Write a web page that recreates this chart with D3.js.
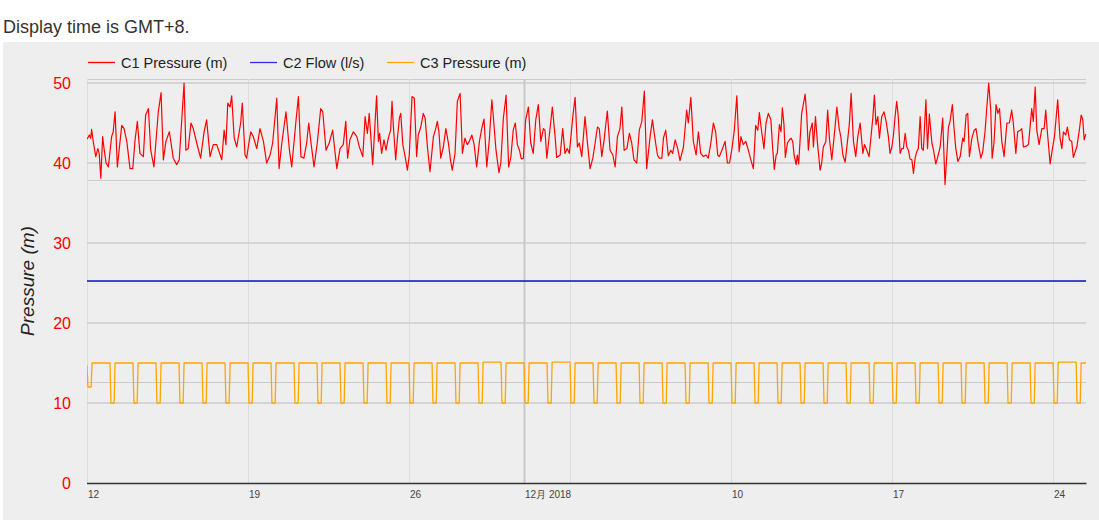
<!DOCTYPE html>
<html>
<head>
<meta charset="utf-8">
<script src="https://cdn.jsdelivr.net/npm/d3@7"></script>
<style>
  html, body { margin: 0; padding: 0; background: #fff; }
  svg { display: block; font-family: Arial, "Liberation Sans", sans-serif; }
</style>
</head>
<body>
<svg id="chart" width="1099" height="522"></svg>
<script>
// ---------------- DATA ----------------
const titleText = "Display time is GMT+8.";
const seriesNames = ["C1 Pressure (m)", "C2 Flow (l/s)", "C3 Pressure (m)"];
const seriesColors = ["#ff0000", "#1010c0", "#ffa500"];
const yAxisTitle = "Pressure (m)";
const yTicks = [0, 10, 20, 30, 40, 50];
const yMax = 50.5;
const secondaryGridTicks = [0, 1, 2, 3, 4];
const startDate = Date.UTC(2018, 10, 12);   // 12 Nov 2018
const spanDays = 43.43;
const xTickDays = [0, 7, 14, 19, 21, 28, 35, 42];
const xTickLabels = ["12", "19", "26", "12月 2018", "", "10", "17", "24"];
const xMajorTickDay = 19;

// C1 Pressure: day offset from 12 Nov and value (m)
const c1Days = [0.01,0.10,0.16,0.20,0.27,0.38,0.47,0.53,0.60,0.68,0.75,0.83,0.93,1.07,1.14,1.22,1.32,1.51,1.61,1.73,1.87,1.99,2.09,2.19,2.30,2.45,2.55,2.67,2.77,2.91,3.10,3.22,3.32,3.43,3.58,3.75,3.90,4.01,4.22,4.30,4.40,4.52,4.62,4.77,4.94,5.09,5.20,5.35,5.49,5.64,5.86,5.96,6.04,6.12,6.22,6.29,6.40,6.51,6.68,6.75,6.87,6.94,7.01,7.12,7.23,7.38,7.52,7.67,7.81,7.96,8.07,8.25,8.35,8.47,8.65,8.80,8.90,9.09,9.19,9.30,9.43,9.55,9.64,9.73,9.87,10.01,10.16,10.25,10.39,10.53,10.68,10.86,11.00,11.14,11.25,11.33,11.43,11.58,11.73,11.84,11.99,12.09,12.19,12.27,12.42,12.59,12.67,12.72,12.81,12.91,13.00,13.10,13.20,13.26,13.32,13.42,13.49,13.58,13.64,13.73,13.83,13.93,14.01,14.13,14.23,14.33,14.40,14.51,14.62,14.70,14.80,14.91,15.06,15.16,15.23,15.30,15.38,15.49,15.60,15.71,15.81,15.88,16.00,16.10,16.22,16.32,16.43,16.53,16.62,16.73,16.83,16.94,17.06,17.16,17.26,17.38,17.49,17.60,17.67,17.78,17.91,17.99,18.10,18.22,18.33,18.43,18.53,18.62,18.71,18.80,18.88,18.97,19.07,19.19,19.29,19.40,19.51,19.62,19.73,19.84,19.91,19.99,20.10,20.23,20.35,20.42,20.57,20.68,20.78,20.88,20.97,21.12,21.22,21.32,21.40,21.51,21.65,21.75,21.87,21.99,22.09,22.19,22.27,22.38,22.48,22.62,22.74,22.86,22.96,23.06,23.17,23.25,23.35,23.47,23.58,23.68,23.78,23.90,24.01,24.12,24.23,24.33,24.48,24.58,24.70,24.80,24.88,24.99,25.06,25.16,25.27,25.38,25.46,25.57,25.68,25.78,25.93,26.07,26.14,26.25,26.36,26.48,26.58,26.68,26.80,26.91,27.01,27.13,27.23,27.33,27.42,27.49,27.60,27.74,27.84,27.93,28.03,28.14,28.25,28.35,28.43,28.53,28.64,28.75,28.86,28.97,29.07,29.16,29.23,29.33,29.43,29.52,29.62,29.73,29.81,29.88,29.96,30.01,30.10,30.17,30.23,30.30,30.36,30.45,30.54,30.61,30.68,30.74,30.83,30.88,30.94,31.07,31.14,31.22,31.29,31.36,31.43,31.53,31.58,31.67,31.75,31.87,31.94,32.01,32.12,32.20,32.28,32.38,32.48,32.60,32.70,32.77,32.86,32.96,33.06,33.14,33.22,33.32,33.42,33.51,33.61,33.73,33.80,33.90,34.00,34.09,34.16,34.23,34.30,34.38,34.45,34.55,34.65,34.74,34.84,34.91,34.99,35.06,35.13,35.20,35.27,35.35,35.42,35.49,35.57,35.64,35.71,35.78,35.86,35.93,36.00,36.07,36.14,36.22,36.29,36.36,36.47,36.54,36.62,36.73,36.80,36.90,36.97,37.09,37.20,37.30,37.38,37.45,37.52,37.62,37.70,37.77,37.86,37.96,38.07,38.13,38.22,38.29,38.36,38.47,38.57,38.65,38.75,38.86,38.94,39.04,39.12,39.20,39.29,39.35,39.43,39.52,39.60,39.67,39.77,39.87,39.99,40.10,40.20,40.27,40.38,40.46,40.57,40.64,40.71,40.83,40.93,41.07,41.14,41.22,41.29,41.39,41.51,41.61,41.68,41.75,41.87,41.97,42.06,42.20,42.30,42.38,42.45,42.55,42.62,42.71,42.81,42.88,43.03,43.14,43.22,43.29,43.35,43.42];
const c1Values = [43.0,43.5,43.1,44.2,42.7,40.8,41.8,41.2,38.1,43.3,41.6,40.0,39.5,43.3,43.9,46.4,39.5,44.7,44.3,42.7,39.3,39.3,42.9,45.2,41.2,40.8,46.0,46.8,41.6,39.5,46.4,48.8,40.4,42.7,43.9,40.6,39.8,40.4,50.0,41.6,41.8,45.0,44.3,42.5,40.6,43.9,45.4,40.8,42.3,42.3,40.4,44.1,42.3,47.5,47.0,48.4,43.1,42.0,45.0,47.5,41.0,40.6,42.0,43.9,43.3,41.8,44.3,42.7,40.0,41.0,42.5,48.1,39.3,42.5,46.4,41.6,39.5,45.4,48.3,40.8,40.6,42.5,45.0,42.7,39.5,42.5,46.8,46.4,41.6,42.5,44.1,39.3,41.8,42.3,45.2,40.6,42.9,43.9,43.3,42.0,40.8,45.8,43.7,46.2,39.8,48.4,42.7,43.7,41.2,42.9,41.6,43.1,44.1,47.7,44.5,40.4,42.9,45.6,46.2,42.3,40.8,39.1,41.0,48.3,48.1,40.8,43.5,44.5,46.2,45.6,42.0,38.9,43.3,44.3,45.2,43.9,40.6,42.0,44.3,42.5,40.2,39.1,41.2,47.7,48.7,41.2,43.1,42.3,42.7,43.5,42.3,39.5,42.7,44.3,45.5,39.5,42.9,47.9,45.6,41.6,38.8,40.0,45.6,48.5,39.5,40.8,44.1,45.0,42.3,41.6,40.5,40.6,45.4,47.0,42.5,41.2,45.4,47.3,42.7,44.3,44.1,40.6,43.5,47.0,43.3,40.7,41.0,44.3,41.2,41.8,41.2,45.8,48.2,42.0,42.5,40.8,45.8,42.7,39.3,40.6,42.5,44.5,44.3,40.8,42.9,46.5,41.6,41.0,39.5,43.3,44.3,47.0,41.6,41.8,43.7,42.5,40.4,40.0,44.1,45.2,49.0,39.3,43.3,45.4,42.9,41.0,40.6,40.6,43.1,44.1,40.9,41.6,41.2,42.9,41.8,40.3,42.0,46.6,45.0,48.2,42.7,41.0,43.9,41.2,40.8,41.0,40.6,42.7,45.0,43.9,41.0,40.8,41.6,42.7,40.0,40.0,41.6,44.1,48.4,41.4,43.3,42.3,42.7,41.6,40.4,39.3,44.7,44.1,46.3,43.9,41.8,45.0,46.2,45.4,41.8,39.2,41.0,41.2,44.8,43.9,46.9,44.8,40.7,42.5,42.9,43.1,42.7,41.0,39.8,41.0,39.9,46.2,47.3,48.6,46.0,41.6,43.9,45.0,42.0,45.8,42.7,39.1,40.0,42.0,42.7,46.6,42.9,40.4,43.3,47.0,44.3,43.3,41.0,40.1,42.7,44.8,48.7,42.7,40.8,43.3,45.0,41.2,42.3,41.6,40.8,43.5,45.6,48.5,44.8,45.8,43.1,45.8,46.4,45.2,43.3,41.2,42.0,43.5,45.8,47.7,45.8,41.2,41.8,41.8,43.7,42.0,41.6,40.5,40.4,38.7,40.6,41.4,41.8,45.8,41.8,41.6,47.9,41.8,46.1,42.5,41.6,39.9,40.6,42.0,45.6,37.3,41.0,44.5,45.2,47.3,44.1,41.8,40.2,40.8,43.1,42.7,46.0,46.2,40.8,43.1,44.1,44.3,42.3,40.6,41.4,43.9,47.0,50.0,46.6,40.6,42.5,47.3,46.2,46.8,42.7,40.8,45.0,45.0,46.6,45.0,41.2,43.9,44.1,44.3,42.0,42.1,42.3,46.8,45.2,49.5,44.1,42.3,44.3,44.3,46.6,43.9,39.9,41.8,43.3,47.9,43.1,41.8,43.9,43.5,44.5,42.9,42.7,40.7,42.0,44.1,46.0,45.4,42.9,43.6];

// C2 Flow: constant level
const c2Days = [0, 43.43];
const c2Values = [25.25, 25.25];

// C3 Pressure: daily plateau / dip levels, dip window in days within each day
const c3StartValue = 14.7;
const c3High = [15.0,15.0,15.0,15.0,15.0,15.0,15.0,15.0,15.0,15.0,15.0,15.0,15.0,15.0,15.0,15.0,15.0,15.1,15.0,15.0,15.1,15.0,15.0,15.0,15.0,15.0,15.0,15.0,15.0,15.0,15.0,15.0,15.0,15.0,15.0,15.0,15.0,15.0,15.0,15.0,15.0,15.0,15.1,15.0];
const c3Low  = [12.0,10.0,10.0,10.0,10.0,10.0,10.0,10.0,10.0,10.0,10.0,10.0,10.0,10.0,10.0,10.0,10.0,10.0,10.0,10.0,10.0,10.0,10.0,10.0,10.0,10.0,10.0,10.0,10.0,10.0,10.0,10.0,10.0,10.0,10.0,10.0,10.0,10.0,10.0,10.0,10.0,10.0,10.0,10.0];
const c3DipPhase = [0.0, 0.04, 0.18, 0.22]; // drop start, bottom reached, bottom end, back up
const c3EndDay = 43.43;

// ---------------- CHART ----------------
const svg = d3.select("#chart");
const W = 1099, H = 522;
const plot = { left: 87, right: 1086, top: 79, bottom: 483 };
const DAY = 86400000;
const toDate = d => new Date(startDate + d * DAY);

const x = d3.scaleUtc().domain([toDate(0), toDate(spanDays)]).range([plot.left, plot.right]);
const y = d3.scaleLinear().domain([0, yMax]).range([plot.bottom, plot.top]);
const y2 = d3.scaleLinear().domain([0, 4]).range([plot.bottom, plot.top]);

// title
svg.append("text").attr("x", 3).attr("y", 33).attr("font-size", 18).attr("fill", "#333").text(titleText);

// background
svg.append("rect").attr("x", 3).attr("y", 42).attr("width", W - 3).attr("height", 478).attr("fill", "#eeeeee");

// secondary gridlines
svg.append("g").selectAll("line").data(secondaryGridTicks).join("line")
  .attr("x1", plot.left).attr("x2", plot.right)
  .attr("y1", d => Math.round(y2(d)) + 0.5).attr("y2", d => Math.round(y2(d)) + 0.5)
  .attr("stroke", "#cccccc").attr("stroke-width", 1);

// vertical gridlines
svg.append("g").selectAll("line").data(xTickDays).join("line")
  .attr("x1", d => Math.round(x(toDate(d))) + 0.5).attr("x2", d => Math.round(x(toDate(d))) + 0.5)
  .attr("y1", plot.top).attr("y2", plot.bottom)
  .attr("stroke", d => d === xMajorTickDay ? "#c8c8c8" : "#dddddd")
  .attr("stroke-width", d => d === xMajorTickDay ? 2 : 1);

// primary gridlines
svg.append("g").selectAll("line").data(yTicks.filter(t => t > 0)).join("line")
  .attr("x1", plot.left).attr("x2", plot.right)
  .attr("y1", d => y(d)).attr("y2", d => y(d))
  .attr("stroke", "#cccccc").attr("stroke-width", 1.6);

// y axis labels
svg.append("g").selectAll("text").data(yTicks).join("text")
  .attr("x", 71).attr("y", d => y(d)).attr("dy", "0.35em")
  .attr("text-anchor", "end").attr("font-size", 16).attr("fill", "#ff0000")
  .text(d => d);

// y axis title
svg.append("text")
  .attr("transform", `translate(34, ${(plot.top + plot.bottom) / 2}) rotate(-90)`)
  .attr("text-anchor", "middle").attr("font-size", 19).attr("font-style", "italic").attr("fill", "#222")
  .text(yAxisTitle);

// x axis labels
svg.append("g").selectAll("text").data(xTickDays.map((d, i) => ({ d, label: xTickLabels[i] }))).join("text")
  .attr("x", t => Math.round(x(toDate(t.d))) + 1).attr("y", 498)
  .attr("font-size", 10).attr("fill", "#444").text(t => t.label);

// series
const line = d3.line().x(p => x(toDate(p[0]))).y(p => y(p[1]));
svg.append("defs").append("clipPath").attr("id", "clip")
  .append("rect").attr("x", plot.left).attr("y", plot.top - 5).attr("width", plot.right - plot.left + 2).attr("height", plot.bottom - plot.top + 5);

const c1Points = c1Days.map((d, i) => [d, c1Values[i]]);
const c2Points = c2Days.map((d, i) => [d, c2Values[i]]);
const c3Points = [[0, c3StartValue]];
c3High.forEach((h, k) => {
  const prevHigh = k === 0 ? c3StartValue : c3High[k - 1];
  if (k > 0) c3Points.push([k + c3DipPhase[0], prevHigh]);
  c3Points.push([k + c3DipPhase[1], c3Low[k]]);
  c3Points.push([k + c3DipPhase[2], c3Low[k]]);
  c3Points.push([k + c3DipPhase[3], h]);
});
c3Points.push([c3EndDay, c3High[c3High.length - 1]]);

const gSeries = svg.append("g").attr("clip-path", "url(#clip)");
gSeries.append("path").datum(c3Points).attr("d", line).attr("fill", "none")
  .attr("stroke", seriesColors[2]).attr("stroke-width", 1.3).attr("stroke-linejoin", "round");
gSeries.append("path").datum(c2Points).attr("d", line).attr("fill", "none")
  .attr("stroke", seriesColors[1]).attr("stroke-width", 1.4);
gSeries.append("path").datum(c1Points).attr("d", line).attr("fill", "none")
  .attr("stroke", seriesColors[0]).attr("stroke-width", 1.2).attr("stroke-linejoin", "round");

// x axis baseline
svg.append("line").attr("x1", plot.left).attr("x2", plot.right + 0.5)
  .attr("y1", plot.bottom + 0.5).attr("y2", plot.bottom + 0.5)
  .attr("stroke", "#333").attr("stroke-width", 1.3);

// legend
const legendX = [88, 250, 387];
const legendColors = ["#ff0000", "#3030f0", "#ffa500"];
const lg = svg.append("g").selectAll("g").data(seriesNames).join("g")
  .attr("transform", (d, i) => `translate(${legendX[i]}, 62)`);
lg.append("line").attr("x1", 0).attr("x2", 27).attr("y1", 0.5).attr("y2", 0.5)
  .attr("stroke", (d, i) => legendColors[i]).attr("stroke-width", 1.3);
lg.append("text").attr("x", 33).attr("y", 6).attr("font-size", 14.5).attr("fill", "#222").text(d => d);
</script>
</body>
</html>
